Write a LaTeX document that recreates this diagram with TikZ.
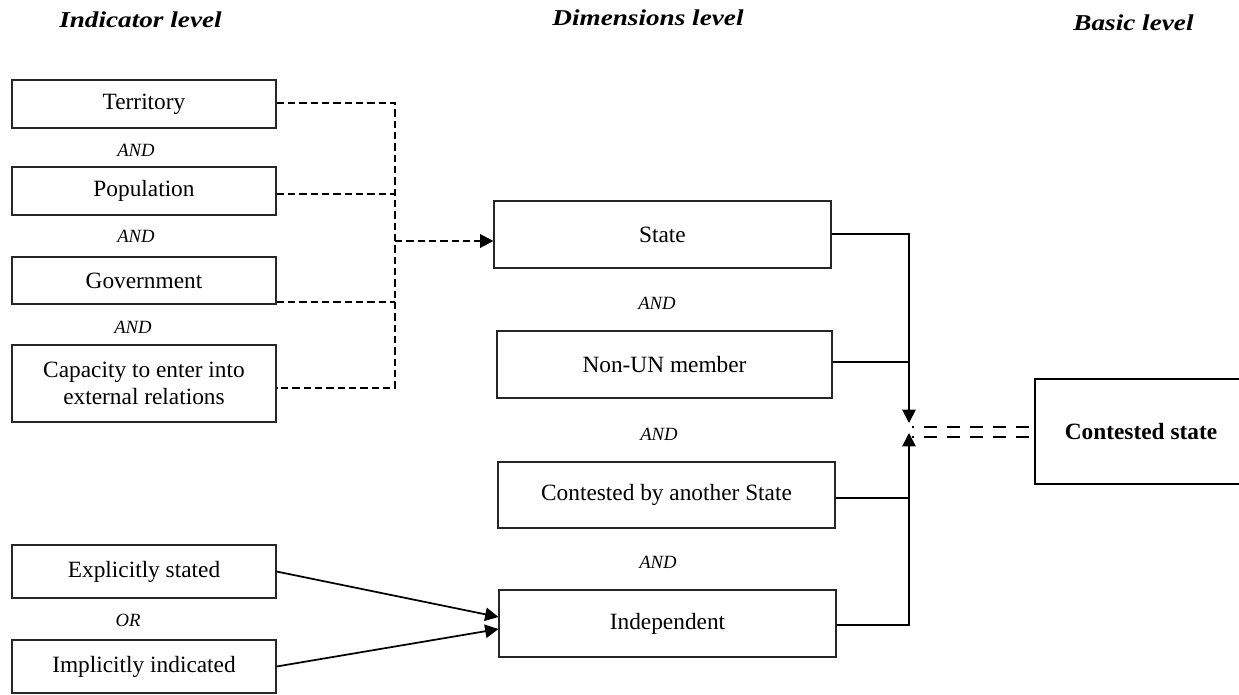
\documentclass[tikz,border=0pt]{standalone}
\usepackage{fontspec}
\setmainfont{Liberation Serif}
\usetikzlibrary{arrows.meta,calc}
\newdimen\pxu
\pxu=0.75pt
\begin{document}
\begin{tikzpicture}[x=0.75pt,y=-0.75pt,
  box/.style={draw=black!85, line width=0.8pt, inner sep=0pt, align=center,
    font=\fontsize{17.5}{20.5}\selectfont},
  andlbl/.style={font=\fontsize{14}{16}\selectfont\itshape, inner sep=0pt},
  head/.style={inner sep=0pt, font=\fontsize{17}{20}\selectfont\bfseries\itshape},
  dconn/.style={line width=1.6pt, dash pattern=on 5.5pt off 3pt},
  conn/.style={line width=1.3pt},
  tip/.style={-{Triangle[length=10pt,width=10pt]}},
  dbl/.style={line width=1.5pt, dash pattern=on 13.5\pxu off 9.5\pxu, dash phase=11.5\pxu}
]
\useasboundingbox (0,0) rectangle (1239,694);
\fill[white] (0,0) rectangle (1239,694);

% headings
\node[head] (h1) at (140.5,20) {\scalebox{1.2}[1]{Indicator level}};
\node[head] (h2) at (648,17.5) {\scalebox{1.2}[1]{Dimensions level}};
\node[head] (h3) at (1133.5,22.5) {\scalebox{1.2}[1]{Basic level}};

% indicator level
\node[box, minimum width=264\pxu, minimum height=48\pxu] (terr) at (144,104) {Territory};
\node[box, minimum width=264\pxu, minimum height=48\pxu] (pop) at (144,191) {Population};
\node[box, minimum width=264\pxu, minimum height=47\pxu] (gov) at (144,280.5) {Government};
\node[box, minimum width=264\pxu, minimum height=77\pxu] (cap) at (144,383.5) {Capacity to enter into\\external relations};
\node[box, minimum width=264\pxu, minimum height=53\pxu] (expl) at (144,571.5) {Explicitly stated};
\node[box, minimum width=264\pxu, minimum height=53\pxu] (impl) at (144,666.5) {Implicitly indicated};

\node[andlbl] (a1) at (136,150) {AND};
\node[andlbl] (a2) at (136,236) {AND};
\node[andlbl] (a3) at (133,327) {AND};
\node[andlbl] (o1) at (128,620) {OR};

% dimensions level
\node[box, minimum width=337\pxu, minimum height=67\pxu] (state) at (662.5,234.5) {State};
\node[box, minimum width=335\pxu, minimum height=67\pxu] (nonun) at (664.5,364.5) {Non-UN member};
\node[box, minimum width=337\pxu, minimum height=66\pxu] (contby) at (666.5,495) {Contested by another State};
\node[box, minimum width=337\pxu, minimum height=67\pxu] (indep) at (667.5,623.5) {Independent};

\node[andlbl] (a4) at (657,303) {AND};
\node[andlbl] (a5) at (659,434) {AND};
\node[andlbl] (a6) at (658,562) {AND};

% basic level
\node[box, draw=black, line width=1.6pt, minimum width=212\pxu, minimum height=105\pxu,
  font=\fontsize{17.5}{20.5}\selectfont\bfseries] (cs) at (1141,431.5) {Contested state};

% dashed connectors
\coordinate (vtop) at (395,103);
\coordinate (vbot) at (395,388);
\coordinate (vmid) at (395,241);
\draw[dconn] (terr.east |- vtop) -- (vtop) -- (vbot) -- (cap.east |- vbot);
\draw[dconn] (pop.east |- 0,194) -- (395,194);
\draw[dconn] (gov.east |- 0,302) -- (395,302);
\draw[dconn, tip] (vmid) -- (state.west |- vmid);

% solid connectors to junction
\coordinate (jt) at (909,423);
\coordinate (jb) at (909,433);
\draw[conn, tip] (state.east |- 0,234) -- (909,234) -- (jt);
\draw[conn] (nonun.east |- 0,362) -- (909,362);
\draw[conn] (contby.east |- 0,498) -- (909,498);
\draw[conn, tip] (indep.east |- 0,625) -- (909,625) -- (jb);

% double dashed link
\draw[dbl] (912,427) -- (cs.west |- 0,427);
\draw[dbl] (912,437) -- (cs.west |- 0,437);

% explicit / implicit
\draw[conn, tip] (expl.east) -- ($(indep.west)+(0,-6.5)$);
\draw[conn, tip] (impl.east) -- ($(indep.west)+(0,5.5)$);
\end{tikzpicture}
\end{document}
